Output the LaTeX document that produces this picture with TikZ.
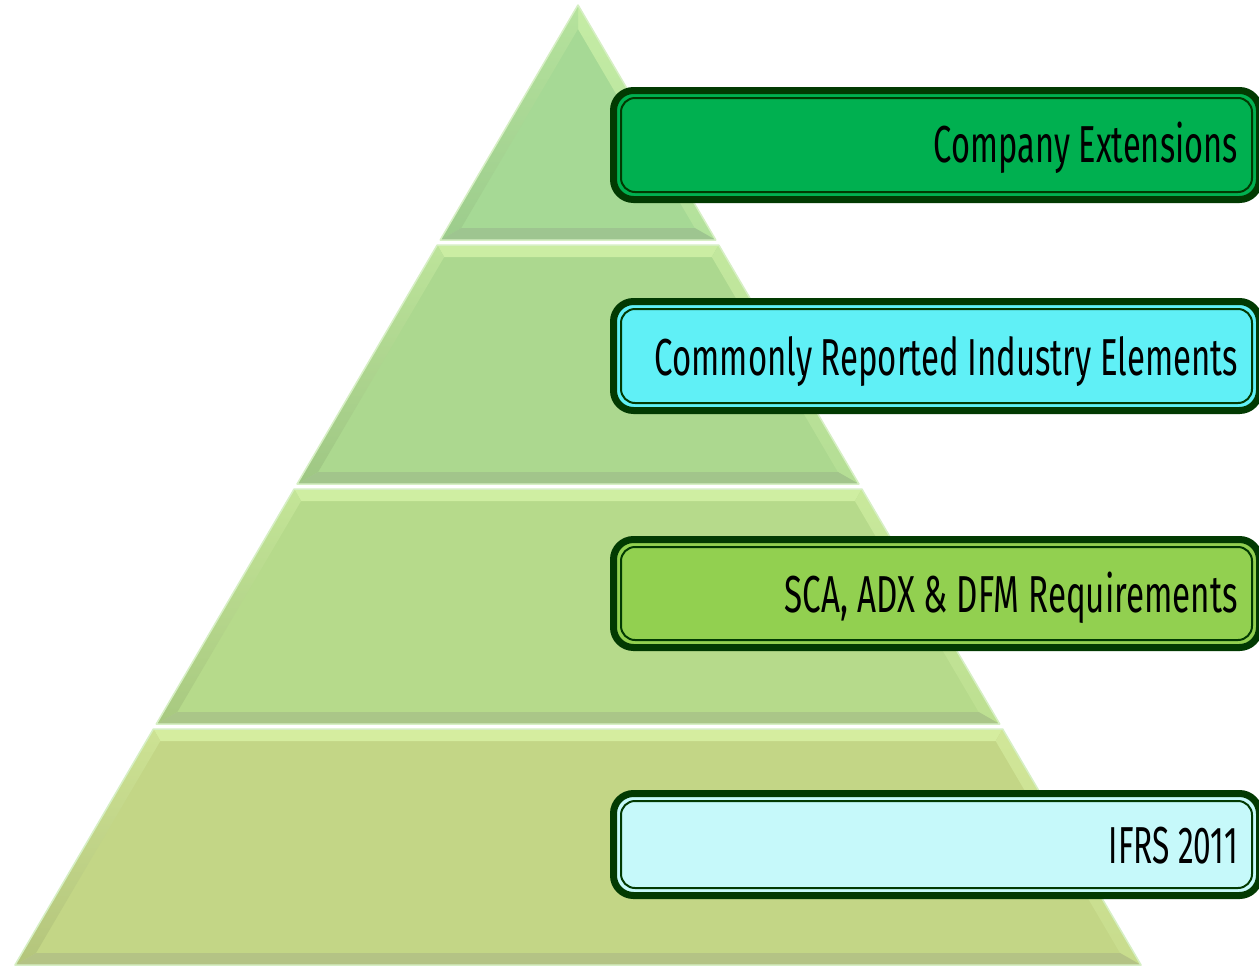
\documentclass[tikz,border=0pt]{standalone}
\usepackage{fontspec}
\usepackage{graphicx}
\newfontfamily\agency{Fira Sans}
\usetikzlibrary{calc}
\definecolor{boxline}{HTML}{023A02}
\definecolor{cA}{HTML}{00B050}
\definecolor{cB}{HTML}{60F0F6}
\definecolor{cC}{HTML}{92D050}
\definecolor{cD}{HTML}{C6F9FA}
\definecolor{lA}{HTML}{A6D995}
\definecolor{lB}{HTML}{ACD88F}
\definecolor{lC}{HTML}{B6DA8B}
\definecolor{lD}{HTML}{C3D686}
\definecolor{hilite}{HTML}{E4FFB4}
\definecolor{rim}{HTML}{D6EFC4}
\tikzset{
 databox/.style={draw=boxline, line width=7pt, rounded corners=20pt, inner sep=0pt, outer sep=0pt, minimum width=646pt},
 innerline/.style={draw=boxline, line width=2pt, rounded corners=14pt},
 lbl/.style={font=\agency\fontsize{52}{60}\selectfont, inner sep=0pt, text=black, anchor=base east},
}
\newcommand\fitto[2]{\resizebox{#1pt}{\height}{#2}}
\newcommand\pyrlayer[3]{%
 \pgfmathsetmacro\pa{578-0.5865*(#1-5)}%
 \pgfmathsetmacro\pb{578+0.5865*(#1-5)}%
 \pgfmathsetmacro\pc{578+0.5865*(#2-5)}%
 \pgfmathsetmacro\pd{578-0.5865*(#2-5)}%
 \pgfmathsetmacro\qa{578-0.5865*(#1+7)+14}%
 \pgfmathsetmacro\qb{578+0.5865*(#1+7)-14}%
 \pgfmathsetmacro\qc{578+0.5865*(#2-17)-14}%
 \pgfmathsetmacro\qd{578-0.5865*(#2-17)+14}%
 \pgfmathsetmacro\ya{#1+12}%
 \pgfmathsetmacro\yb{#2-12}%
 \fill[#3] (\pa,#1) -- (\pb,#1) -- (\pc,#2) -- (\pd,#2) -- cycle;
 \fill[#3!45!hilite] (\pa,#1) -- (\pb,#1) -- (\qb,\ya) -- (\qa,\ya) -- cycle;
 \shade[top color=#3!60!hilite, bottom color=#3!85!hilite] (\pb,#1) -- (\pc,#2) -- (\qc,\yb) -- (\qb,\ya) -- cycle;
 \shade[top color=#3!70!hilite, bottom color=#3!92!black] (\pa,#1) -- (\qa,\ya) -- (\qd,\yb) -- (\pd,#2) -- cycle;
 \fill[#3!78!gray] (\pd,#2) -- (\pc,#2) -- (\qc,\yb) -- (\qd,\yb) -- cycle;
 \draw[rim, line width=1.5pt, line join=round] (\pa,#1) -- (\pb,#1) -- (\pc,#2) -- (\pd,#2) -- cycle;
}
\begin{document}
\begin{tikzpicture}[x=1pt, y=-1pt]
\useasboundingbox[fill=white] (0,0) rectangle (1259,967);
% top triangle
\fill[lA] (578,5) -- (715.8,240) -- (440.2,240) -- cycle;
\shade[top color=lA!50!hilite, bottom color=lA!80!hilite] (578,5) -- (715.8,240) -- (694.8,228) -- (578,29) -- cycle;
\shade[top color=lA!75!hilite, bottom color=lA!94!black] (578,5) -- (578,29) -- (461.2,228) -- (440.2,240) -- cycle;
\fill[lA!78!gray] (440.2,240) -- (715.8,240) -- (694.8,228) -- (461.2,228) -- cycle;
\draw[rim, line width=1.5pt, line join=round] (578,5) -- (715.8,240) -- (440.2,240) -- cycle;
% lower layers
\pyrlayer{245}{484}{lB}
\pyrlayer{489}{724}{lC}
\pyrlayer{729}{965}{lD}
% boxes
\node[databox, fill=cA, minimum height=109pt] (b1) at (936.5,145) {};
\node[databox, fill=cB, minimum height=109pt] (b2) at (936.5,356) {};
\node[databox, fill=cC, minimum height=108pt] (b3) at (936.5,593.5) {};
\node[databox, fill=cD, minimum height=102pt] (b4) at (936.5,844.5) {};
\foreach \b in {b1,b2,b3,b4}{
 \draw[innerline] ($(\b.north west)+(7.5,7.5)$) rectangle ($(\b.south east)+(-7.5,-7.5)$);
}
\node[lbl] (t1) at (1238,162) {\fitto{304}{Company Extensions}};
\node[lbl] (t2) at (1238,375) {\fitto{583}{Commonly Reported Industry Elements}};
\node[lbl] (t3) at (1238,612) {\fitto{453}{SCA, ADX \& DFM Requirements}};
\node[lbl] (t4) at (1238,863) {\fitto{129}{IFRS 2011}};
\end{tikzpicture}
\end{document}
